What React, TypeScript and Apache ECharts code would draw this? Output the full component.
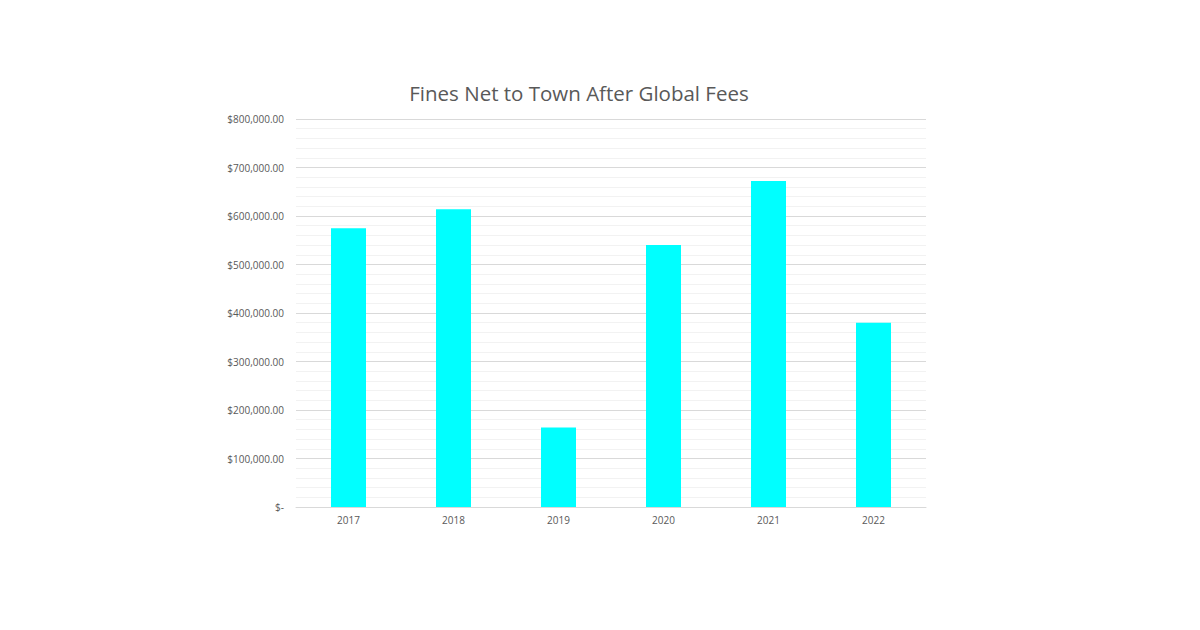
import React, { useEffect, useRef } from "react";
import * as echarts from "echarts";

const categories = ["2017", "2018", "2019", "2020", "2021", "2022"];
const values = [575000, 614000, 164000, 540000, 672000, 380000];
const title = "Fines Net to Town After Global Fees";

export default function App() {
  const ref = useRef<HTMLDivElement>(null);
  useEffect(() => {
    const chart = echarts.init(ref.current!, null, { renderer: "svg" });
    chart.setOption({
      animation: false,
      backgroundColor: "#ffffff",
      title: {
        text: title,
        left: 574,
        top: 77,
        textAlign: "center",
        textStyle: { fontFamily: "Open Sans", fontSize: 20.5, fontWeight: "normal", color: "#595959" },
      },
      grid: { left: 296, right: 274, top: 119, bottom: 123 },
      xAxis: {
        type: "category",
        data: categories,
        axisLine: { lineStyle: { color: "#d9d9d9" } },
        axisTick: { show: false },
        axisLabel: { color: "#595959", fontSize: 10, fontFamily: "Open Sans", margin: 8 },
      },
      yAxis: {
        type: "value",
        min: 0,
        max: 800000,
        interval: 100000,
        axisLine: { show: false },
        axisTick: { show: false },
        minorTick: { show: false, splitNumber: 5 },
        splitLine: { lineStyle: { color: "#d9d9d9" } },
        minorSplitLine: { show: true, lineStyle: { color: "#f2f2f2" } },
        axisLabel: {
          color: "#595959",
          fontSize: 10,
          fontFamily: "Open Sans",
          margin: 12,
          formatter: (v: number) =>
            v === 0
              ? "$-"
              : "$" + v.toLocaleString("en-US", { minimumFractionDigits: 2, maximumFractionDigits: 2 }),
        },
      },
      series: [
        {
          type: "bar",
          data: values,
          barWidth: 35,
          itemStyle: { color: "#00ffff" },
        },
      ],
    });
    return () => chart.dispose();
  }, []);
  return <div ref={ref} style={{ width: 1200, height: 630, margin: -8 }} />;
}
